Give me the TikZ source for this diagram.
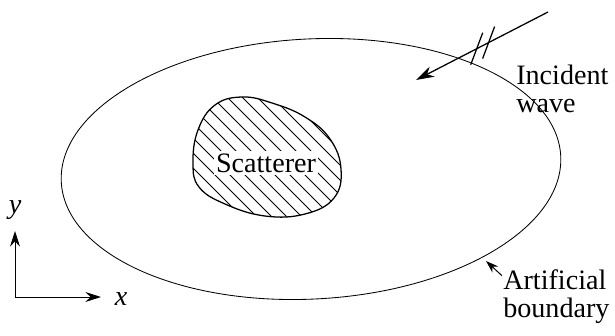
\documentclass[tikz,border=0pt]{standalone}
\usepackage{fontspec}
\setmainfont{LiberationSerif}[Extension=.ttf, UprightFont=*-Regular, ItalicFont=*-Italic, BoldFont=*-Bold]
\usetikzlibrary{arrows.meta, positioning}

\tikzset{
  lbl/.style={font=\fontsize{20}{20}\selectfont, inner sep=0pt},
  axis/.style={line width=0.7pt, -{Stealth[length=11pt,width=7pt]}},
  hatch/.style={line width=0.55pt},
}

\begin{document}
\begin{tikzpicture}[x=0.025cm, y=0.025cm]
  \useasboundingbox (0,0) rectangle (615,335);
  % artificial boundary
  \draw[line width=0.6pt, rotate around={3:(311,166)}] (311,166) ellipse [x radius=6.25cm, y radius=3.25cm];
  % scatterer with hatching
  \begin{scope}
    \clip plot[smooth cycle, tension=0.7] coordinates {(193,172) (198,205) (215,230) (242,238) (272,232) (305,218) (330,196) (341,166) (334,137) (305,121) (265,119) (225,131) (199,148)};
    \foreach \c in {300,315,...,600}
      \draw[hatch] (150,\c-150) -- (450,\c-450);
  \end{scope}
  \draw[line width=0.9pt] plot[smooth cycle, tension=0.7] coordinates {(193,172) (198,205) (215,230) (242,238) (272,232) (305,218) (330,196) (341,166) (334,137) (305,121) (265,119) (225,131) (199,148)};
  \node[lbl, fill=white, inner sep=1.5pt] (scat) at (266,172) {Scatterer};
  % incident wave
  \coordinate (inctail) at (548,323);
  \coordinate (inctip) at (416,255);
  \draw[line width=0.9pt, -{Stealth[length=13pt,width=8pt]}] (inctail) -- (inctip);
  \path (inctail) -- (inctip) coordinate[pos=0.45] (h1) coordinate[pos=0.54] (h2);
  \draw[line width=0.9pt] (h1) ++(-6,-16) -- ++(12,32);
  \draw[line width=0.9pt] (h2) ++(-6,-16) -- ++(12,32);
  \node[lbl, anchor=west, align=left] (inc) at (516,246) {Incident\\wave};
  % boundary label
  \node[lbl, anchor=west, align=left] (bnd) at (503,38) {Artificial\\boundary};
  \coordinate (bndpt) at (486,74);
  \draw[line width=0.7pt, -{Stealth[length=9pt,width=6pt]}] ([shift={(-1,-6)}]bnd.north west) -- (bndpt);
  % axes
  \coordinate (orig) at (15,38);
  \coordinate (yend) at (15,104);
  \coordinate (xend) at (101,38);
  \draw[axis] (orig) -- (yend);
  \draw[axis] (orig) -- (xend);
  \node[lbl] (ylab) at (15,125) {\textit{y}};
  \node[lbl] (xlab) at (121,36) {\textit{x}};
\end{tikzpicture}
\end{document}
